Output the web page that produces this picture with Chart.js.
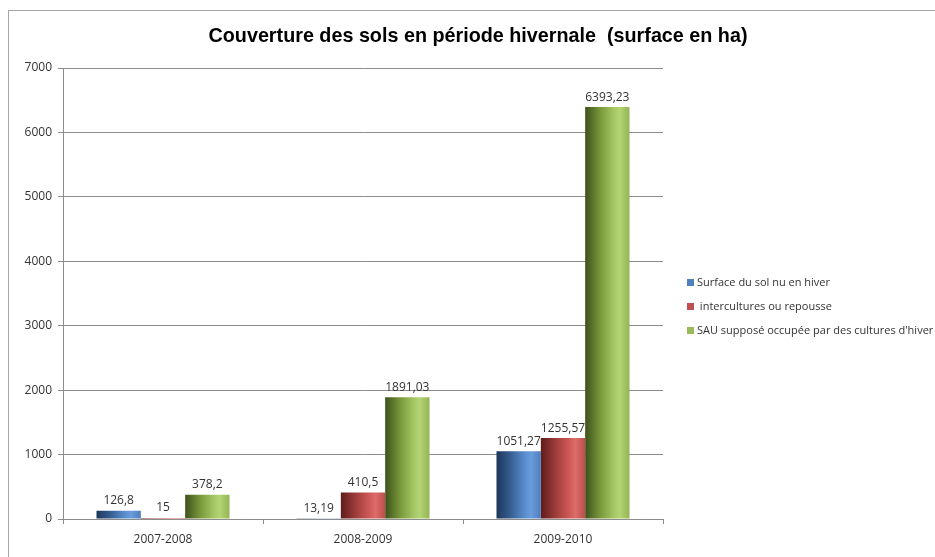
<!DOCTYPE html>
<html>
<head>
<meta charset="utf-8">
<script src="https://cdn.jsdelivr.net/npm/chart.js@4/dist/chart.umd.min.js"></script>
<style>
html, body { margin: 0; padding: 0; background: #fff; overflow: hidden; }
#wrap { position: relative; width: 935px; height: 557px; }
#frame { position: absolute; left: 8px; top: 10px; right: -5px; bottom: -5px;
         border-top: 1px solid #a6a6a6; border-left: 1px solid #a6a6a6; }
canvas { position: absolute; left: 0; top: 0; }
</style>
</head>
<body>
<div id="wrap">
  <div id="frame"></div>
  <canvas id="chart" width="935" height="557"></canvas>
</div>
<script>
const titleText = 'Couverture des sols en période hivernale  (surface en ha)';
const categories = ['2007-2008', '2008-2009', '2009-2010'];
const seriesNames = ['Surface du sol nu en hiver', ' intercultures ou repousse', "SAU supposé occupée par des cultures d'hiver"];
const solNu = [126.8, 13.19, 1051.27];
const intercultures = [15, 410.5, 1255.57];
const culturesHiver = [378.2, 1891.03, 6393.23];
const yMax = 7000;
const yStep = 1000;

// flat colours for legend, gradient stops for the bars (left -> right)
const flatColors = ['#4f81bd', '#c0504d', '#9bbb59'];
const shades = [
    ['#1d3658', '#3a6399', '#5b8fd0', '#6a9ddc', '#4d7dbb'],
    ['#5e1c1b', '#a03e3c', '#d05a57', '#dc6c69', '#bb4f4c'],
    ['#3d521b', '#7a9a3c', '#a5c765', '#b4d474', '#94b555']
];
const CAT_PCT = 0.665;

function barGradient(ctx) {
    const chart = ctx.chart;
    const ds = ctx.datasetIndex;
    const xs = chart.scales.x;
    if (!chart.chartArea || !xs || ctx.dataIndex === undefined) return flatColors[ds];
    const catW = xs.width / categories.length;
    const barW = catW * CAT_PCT / 3;
    const left = xs.getPixelForValue(ctx.dataIndex) - catW * CAT_PCT / 2 + ds * barW;
    const g = chart.ctx.createLinearGradient(left, 0, left + barW, 0);
    const s = shades[ds];
    g.addColorStop(0, s[0]);
    g.addColorStop(0.35, s[1]);
    g.addColorStop(0.65, s[2]);
    g.addColorStop(0.78, s[3]);
    g.addColorStop(1, s[4]);
    return g;
}

const fmt = v => String(v).replace('.', ',');
const tickFont = { family: '"Open Sans", sans-serif', size: 12 };

const extras = {
    id: 'extras',
    afterDatasetsDraw(chart) {
        const c = chart.ctx;
        c.save();
        c.font = '12px "Open Sans", sans-serif';
        c.fillStyle = '#333';
        c.textAlign = 'center';
        c.textBaseline = 'bottom';
        chart.data.datasets.forEach((ds, i) => {
            chart.getDatasetMeta(i).data.forEach((bar, j) => {
                c.fillText(fmt(ds.data[j]), bar.x, bar.y - 4);
            });
        });
        c.restore();
    },
    afterDraw(chart) {
        const c = chart.ctx;
        c.save();
        // title, squeezed to the width of the original narrow face
        c.font = 'bold 21px "Liberation Sans", sans-serif';
        c.fillStyle = '#000';
        c.textAlign = 'center';
        c.textBaseline = 'middle';
        c.fillText(titleText, 478, 36, 539);
        // legend
        c.font = '11px "Open Sans", sans-serif';
        c.textAlign = 'left';
        chart.data.datasets.forEach((ds, i) => {
            const y = 283 + i * 24;
            c.fillStyle = flatColors[i];
            c.fillRect(687, y - 4, 7, 7);
            c.fillStyle = '#333';
            c.fillText(ds.label, 697, y);
        });
        c.restore();
    }
};

new Chart(document.getElementById('chart'), {
    type: 'bar',
    data: {
        labels: categories,
        datasets: [
            { label: seriesNames[0], data: solNu, backgroundColor: barGradient },
            { label: seriesNames[1], data: intercultures, backgroundColor: barGradient },
            { label: seriesNames[2], data: culturesHiver, backgroundColor: barGradient }
        ]
    },
    options: {
        responsive: false,
        animation: false,
        categoryPercentage: CAT_PCT,
        barPercentage: 1,
        layout: { padding: { left: 0, right: 272, top: 68, bottom: 0 } },
        plugins: {
            legend: { display: false },
            title: { display: false },
            tooltip: { enabled: false }
        },
        scales: {
            x: {
                afterFit: s => { s.height = 38; },
                grid: { drawOnChartArea: false, color: '#8c8c8c', tickLength: 5, offset: true },
                border: { color: '#8c8c8c' },
                ticks: { color: '#333', padding: 8, font: tickFont }
            },
            y: {
                min: 0,
                max: yMax,
                afterFit: s => { s.width = 63; },
                grid: { color: '#8c8c8c', tickLength: 5 },
                border: { color: '#8c8c8c' },
                ticks: { stepSize: yStep, color: '#333', padding: 6, font: tickFont, callback: v => String(v) }
            }
        }
    },
    plugins: [extras]
});
</script>
</body>
</html>
